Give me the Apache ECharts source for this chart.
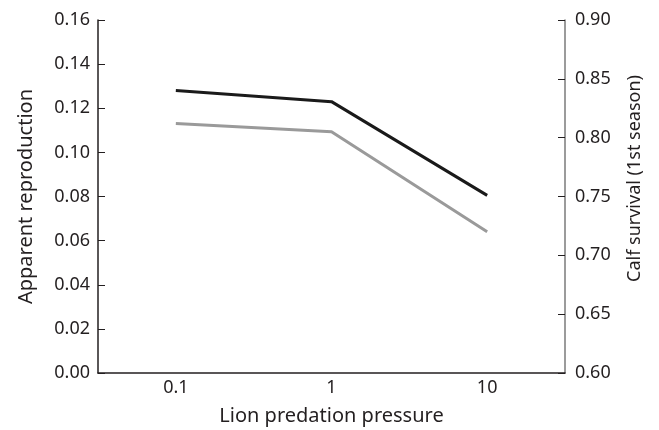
<!DOCTYPE html>
<html>
<head>
<meta charset="utf-8">
<script src="https://cdn.jsdelivr.net/npm/echarts@6/dist/echarts.min.js"></script>
<style>
  html, body { margin: 0; padding: 0; background: #fff; }
  #chart { width: 659px; height: 430px; }
</style>
</head>
<body>
<div id="chart"></div>
<script>
var categories = ['0.1', '1', '10'];
var reproduction = [0.128, 0.123, 0.0805];
var calfSurvival = [0.812, 0.805, 0.72];

var font = 'Noto Sans';
var dark = '#231f20';

var chart = echarts.init(document.getElementById('chart'));
var options = {
  animation: false,
  grid: {
    left: 98,
    right: 94,
    top: 20,
    bottom: 57,
    containLabel: false,
    outerBoundsMode: 'none',
  },

  xAxis: {
    type: 'category',
    data: categories,
    boundaryGap: true,
    name: 'Lion predation pressure',
    nameLocation: 'middle',
    nameGap: 33,
    nameTextStyle: { fontFamily: font, fontSize: 20, color: dark },
    axisLine: { lineStyle: { color: dark, width: 1.5 } },
    axisTick: { inside: true, length: 5, lineStyle: { color: dark } },
    axisLabel: { fontFamily: font, fontSize: 18, color: dark, margin: 6 },
  },

  yAxis: [
    {
      type: 'value',
      min: 0,
      max: 0.16,
      interval: 0.02,
      name: 'Apparent reproduction',
      nameLocation: 'middle',
      nameGap: 62,
      nameTextStyle: { fontFamily: font, fontSize: 20, color: dark },
      axisLine: { show: true, lineStyle: { color: dark, width: 1.5 } },
      axisTick: { show: true, inside: true, length: 7, lineStyle: { color: dark } },
      axisLabel: {
        fontFamily: font, fontSize: 18, color: dark, margin: 8,
        formatter: function(v) { return v.toFixed(2); },
      },
      splitLine: { show: false },
    },
    {
      type: 'value',
      min: 0.6,
      max: 0.9,
      interval: 0.05,
      position: 'right',
      name: 'Calf survival (1st season)',
      nameLocation: 'middle',
      nameGap: 61,
      // shift the title a bit upwards, as in the original
      nameTextStyle: { fontFamily: font, fontSize: 18, color: dark, padding: [0, 0, 0, 36] },
      axisLine: { show: true, lineStyle: { color: '#7a7a7a', width: 1.5 } },
      axisTick: { show: true, inside: true, length: 7, lineStyle: { color: dark } },
      axisLabel: {
        fontFamily: font, fontSize: 18, color: dark, margin: 10,
        formatter: function(v) { return v.toFixed(2); },
      },
      splitLine: { show: false },
    },
  ],

  series: [
    {
      name: 'Apparent reproduction',
      type: 'line',
      yAxisIndex: 0,
      data: reproduction,
      symbol: 'none',
      lineStyle: { color: '#1a1a1a', width: 3 },
    },
    {
      name: 'Calf survival',
      type: 'line',
      yAxisIndex: 1,
      data: calfSurvival,
      symbol: 'none',
      lineStyle: { color: '#9a9a9a', width: 3 },
    },
  ],
};
chart.setOption(options);
</script>
</body>
</html>
